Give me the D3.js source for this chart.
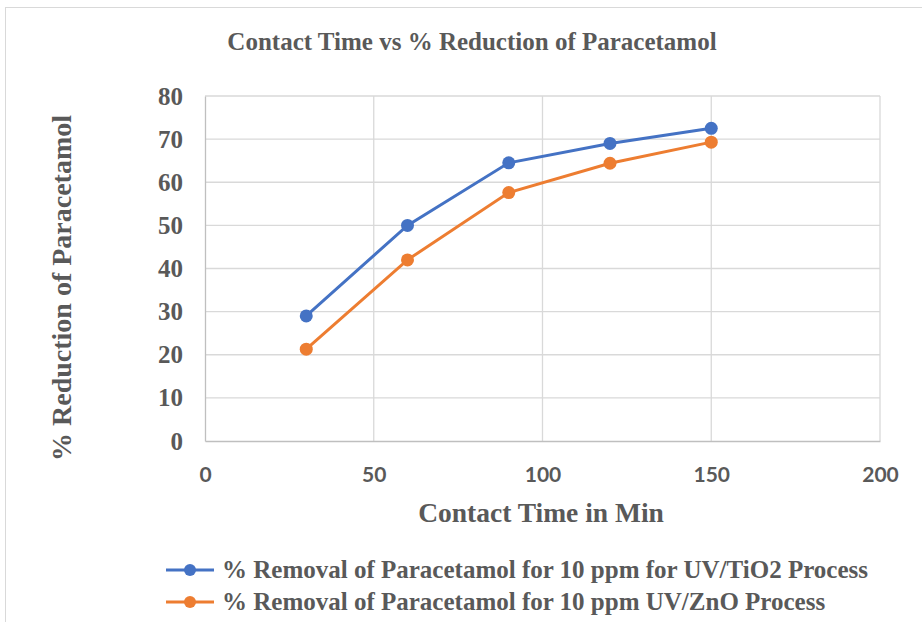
<!DOCTYPE html>
<html><head><meta charset="utf-8">
<script src="https://cdn.jsdelivr.net/npm/d3@7"></script>
<style>body{margin:0;background:#fff}svg{display:block}</style>
</head><body>
<script>
const contactTime = [30, 60, 90, 120, 150];
const tio2Values = [29, 50, 64.5, 69, 72.5];
const znoValues = [21.3, 42, 57.6, 64.4, 69.3];
const xTicks = [0, 50, 100, 150, 200];
const yTicks = [0, 10, 20, 30, 40, 50, 60, 70, 80];
const seriesNames = ["% Removal of Paracetamol for 10 ppm for UV/TiO2 Process", "% Removal of Paracetamol for 10 ppm UV/ZnO Process"];
const seriesColors = ["#4472c4", "#ed7d31"];

const W = 922, H = 622;
const svg = d3.select("body").append("svg").attr("width", W).attr("height", H);
svg.append("rect").attr("x", 5.5).attr("y", 7.5).attr("width", W).attr("height", H).attr("fill", "#fff").attr("stroke", "#d9d9d9");

const x = d3.scaleLinear().domain([0, 200]).range([205, 880]);
const y = d3.scaleLinear().domain([0, 80]).range([441, 96]);
const serif = "'Liberation Serif','Times New Roman',serif";
const gray = "#595959";

// gridlines
svg.append("g").selectAll("line").data(yTicks.slice(1)).join("line")
  .attr("x1", x(0)).attr("x2", x(200)).attr("y1", d => y(d)).attr("y2", d => y(d))
  .attr("stroke", "#d9d9d9").attr("stroke-width", 1.3);
svg.append("g").selectAll("line").data(xTicks.slice(1)).join("line")
  .attr("y1", y(0)).attr("y2", y(80)).attr("x1", d => x(d)).attr("x2", d => x(d))
  .attr("stroke", "#d9d9d9").attr("stroke-width", 1.3);

// axes
const yAxis = svg.append("g").attr("transform", `translate(${x(0)},0)`)
  .call(d3.axisLeft(y).tickValues(yTicks).tickSize(0).tickPadding(22));
yAxis.select(".domain").attr("stroke", "#bfbfbf").attr("stroke-width", 1.3);
yAxis.selectAll("text").attr("font-family", serif).attr("font-weight", "bold").attr("font-size", 25).attr("fill", gray);

const xAxis = svg.append("g").attr("transform", `translate(0,${y(0)})`)
  .call(d3.axisBottom(x).tickValues(xTicks).tickSize(0).tickPadding(26));
xAxis.select(".domain").attr("stroke", "#bfbfbf").attr("stroke-width", 1.3);
xAxis.selectAll("text").attr("font-family", "Lato, 'Liberation Sans', sans-serif").attr("font-weight", "bold").attr("font-size", 21).attr("fill", gray);

// title & axis titles
svg.append("text").attr("x", 472).attr("y", 50).attr("text-anchor", "middle")
  .attr("font-family", serif).attr("font-weight", "bold").attr("font-size", 25).attr("fill", gray)
  .text("Contact Time vs % Reduction of Paracetamol");
svg.append("text").attr("x", 541).attr("y", 522).attr("text-anchor", "middle")
  .attr("font-family", serif).attr("font-weight", "bold").attr("font-size", 27.5).attr("fill", gray)
  .text("Contact Time in Min");
svg.append("text").attr("transform", `translate(71,288) rotate(-90)`).attr("text-anchor", "middle")
  .attr("font-family", serif).attr("font-weight", "bold").attr("font-size", 28).attr("fill", gray)
  .text("% Reduction of Paracetamol");

// series
const allSeries = [tio2Values, znoValues];
const line = d3.line().x((d, i) => x(contactTime[i])).y(d => y(d));
allSeries.forEach((vals, s) => {
  svg.append("path").datum(vals).attr("d", line).attr("fill", "none")
    .attr("stroke", seriesColors[s]).attr("stroke-width", 3);
  svg.append("g").selectAll("circle").data(vals).join("circle")
    .attr("cx", (d, i) => x(contactTime[i])).attr("cy", d => y(d)).attr("r", 6.5)
    .attr("fill", seriesColors[s]);
});

// legend
seriesNames.forEach((name, s) => {
  const ly = 570 + s * 32;
  const g = svg.append("g");
  g.append("line").attr("x1", 166).attr("x2", 214).attr("y1", ly).attr("y2", ly)
    .attr("stroke", seriesColors[s]).attr("stroke-width", 3);
  g.append("circle").attr("cx", 190).attr("cy", ly).attr("r", 6).attr("fill", seriesColors[s]);
  g.append("text").attr("x", 222).attr("y", ly + 8)
    .attr("font-family", serif).attr("font-weight", "bold").attr("font-size", 25).attr("fill", gray)
    .text(name);
});
</script>
</body></html>
